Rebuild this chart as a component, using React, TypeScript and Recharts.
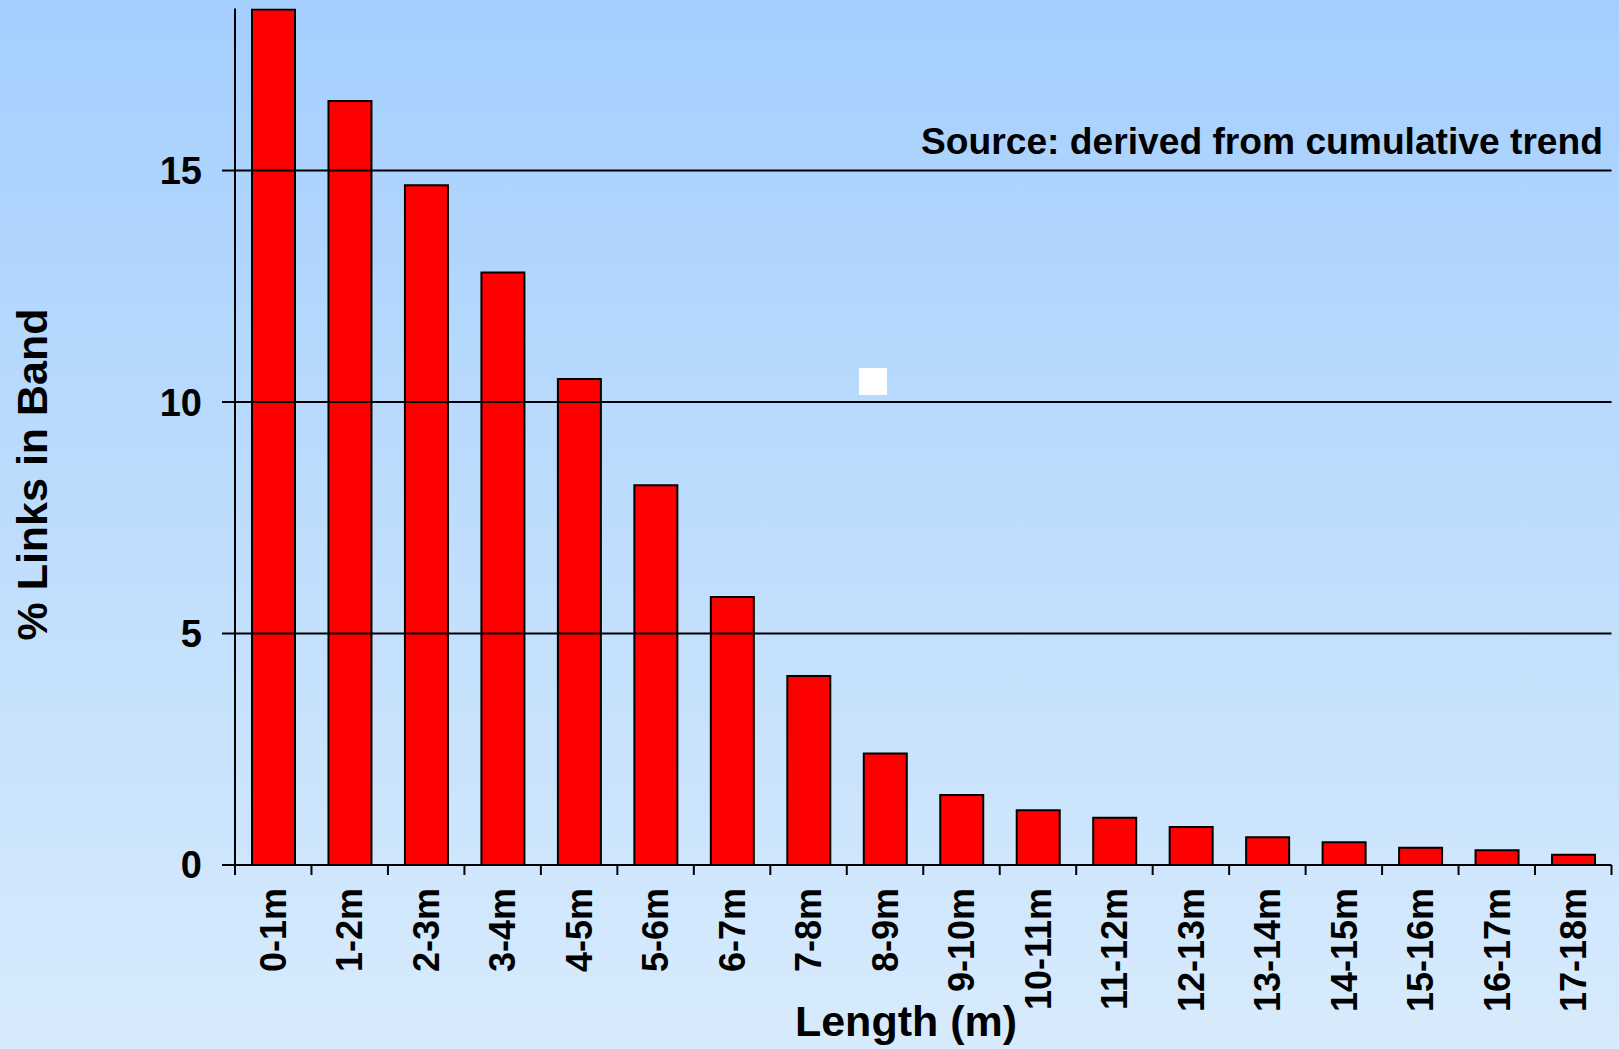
import React from 'react';
import { BarChart, Bar, XAxis, YAxis, ReferenceLine } from 'recharts';

const categories = [
  '0-1m', '1-2m', '2-3m', '3-4m', '4-5m', '5-6m', '6-7m', '7-8m', '8-9m',
  '9-10m', '10-11m', '11-12m', '12-13m', '13-14m', '14-15m', '15-16m', '16-17m', '17-18m',
];
const linkPercent = [
  18.48, 16.5, 14.68, 12.8, 10.5, 8.2, 5.79, 4.08, 2.41,
  1.51, 1.18, 1.02, 0.82, 0.6, 0.49, 0.37, 0.32, 0.22,
];
const yTicks = [0, 5, 10, 15];
const yDomain = [0, 18.5];
const sourceNote = 'Source: derived from cumulative trend';
const xTitle = 'Length (m)';
const yTitle = '% Links in Band';

const data = categories.map((c, i) => ({ band: c, value: linkPercent[i] }));

const W = 1619;
const H = 1049;
const FONT = '"Liberation Sans", Arial, Helvetica, sans-serif';
const X_TICK_SIZE = 10;
const X_TICK_MARGIN = 13;

const XTick = (props: any) => {
  const { x, y, payload, index } = props;
  const off = typeof payload?.offset === 'number' ? payload.offset : 0;
  const axisY = y - X_TICK_MARGIN - X_TICK_SIZE;
  const isLast = index === categories.length - 1;
  return (
    <g>
      <line x1={x - off} x2={x - off} y1={axisY} y2={axisY + X_TICK_SIZE} stroke="#000" strokeWidth={2} />
      {isLast && (
        <line x1={x + off} x2={x + off} y1={axisY} y2={axisY + X_TICK_SIZE} stroke="#000" strokeWidth={2} />
      )}
      <text
        x={x}
        y={y}
        transform={`rotate(-90 ${x} ${y})`}
        textAnchor="end"
        dy="0.355em"
        fontFamily={FONT}
        fontWeight="bold"
        fontSize={36}
        fill="#000"
      >
        {payload.value}
      </text>
    </g>
  );
};

export default function App() {
  return (
    <div
      style={{
        position: 'absolute',
        left: 0,
        top: 0,
        width: W,
        height: H,
        overflow: 'hidden',
        background: 'linear-gradient(to bottom, #A4CFFE 0%, #D8EBFC 100%)',
      }}
    >
      <BarChart
        width={W}
        height={H}
        data={data}
        margin={{ top: 8.5, right: 7.5, left: 0, bottom: 0 }}
      >
        <XAxis
          dataKey="band"
          type="category"
          height={184}
          interval={0}
          tickLine={false}
          tickSize={X_TICK_SIZE}
          tickMargin={X_TICK_MARGIN}
          axisLine={{ stroke: '#000', strokeWidth: 2 }}
          tick={<XTick />}
        />
        <YAxis
          width={235}
          domain={yDomain}
          ticks={yTicks}
          allowDataOverflow
          tickSize={13}
          tickMargin={20}
          tickLine={{ stroke: '#000', strokeWidth: 2 }}
          axisLine={{ stroke: '#000', strokeWidth: 2 }}
          tick={{ fill: '#000', fontSize: 38, fontWeight: 'bold', fontFamily: FONT }}
        />
        {yTicks
          .filter((t) => t > 0)
          .map((t) => (
            <ReferenceLine key={t} y={t} stroke="#000" strokeWidth={2} ifOverflow="extendDomain" />
          ))}
        <Bar
          dataKey="value"
          fill="#FF0000"
          stroke="#000"
          strokeWidth={2}
          barSize={43}
          isAnimationActive={false}
        />
      </BarChart>
      <svg
        width={W}
        height={H}
        style={{ position: 'absolute', left: 0, top: 0, pointerEvents: 'none' }}
      >
        <text
          x={1603}
          y={154}
          textAnchor="end"
          fontFamily={FONT}
          fontWeight="bold"
          fontSize={37.2}
          fill="#000"
        >
          {sourceNote}
        </text>
        <text
          x={906}
          y={1036}
          textAnchor="middle"
          fontFamily={FONT}
          fontWeight="bold"
          fontSize={43}
          fill="#000"
        >
          {xTitle}
        </text>
        <text
          transform="translate(47 474.5) rotate(-90)"
          textAnchor="middle"
          fontFamily={FONT}
          fontWeight="bold"
          fontSize={43}
          fill="#000"
        >
          {yTitle}
        </text>
        <rect x={859} y={368} width={28} height={27} fill="#FFFFFF" />
      </svg>
    </div>
  );
}
